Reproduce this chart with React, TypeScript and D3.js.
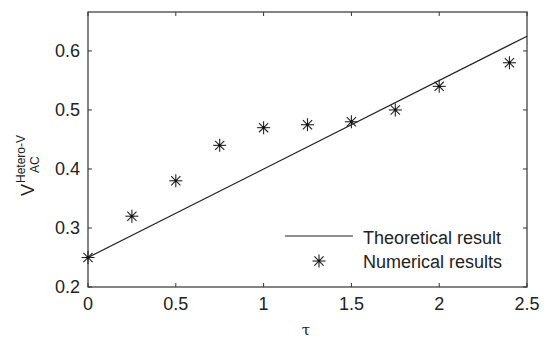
import React, { useEffect, useRef } from 'react'
import * as d3 from 'd3'

const width = 550
const height = 344
const margin = { top: 12, left: 88, bottom: 57, right: 23 }
const iwidth = width - margin.left - margin.right
const iheight = height - margin.top - margin.bottom

const tauValues = [0, 0.25, 0.5, 0.75, 1, 1.25, 1.5, 1.75, 2, 2.4]
const numericalValues = [0.25, 0.32, 0.38, 0.44, 0.47, 0.475, 0.48, 0.5, 0.54, 0.58]
const theoryTau = [0, 2.5]
const theoryValues = [0.25, 0.625]
const xTicks = [0, 0.5, 1, 1.5, 2, 2.5]
const yTicks = [0.2, 0.3, 0.4, 0.5, 0.6]

const font = 'Arial, "Liberation Sans", sans-serif'
const ink = '#222'

const App = () => {
  const ref = useRef<SVGSVGElement | null>(null)

  useEffect(() => {
    const svg = d3.select(ref.current)
    svg.selectAll('*').remove()

    const x = d3.scaleLinear().domain([0, 2.5]).range([0, iwidth])
    const y = d3.scaleLinear().domain([0.2, 0.666]).range([iheight, 0])

    const g = svg.append('g').attr('transform', `translate(${margin.left},${margin.top})`)

    // box
    g.append('rect')
      .attr('width', iwidth).attr('height', iheight)
      .attr('fill', 'none').attr('stroke', '#333').attr('stroke-width', 1.2)

    // ticks, inward on all four sides
    const tk = 4
    xTicks.forEach(t => {
      g.append('line').attr('x1', x(t)).attr('x2', x(t)).attr('y1', iheight).attr('y2', iheight - tk).attr('stroke', '#333')
      g.append('line').attr('x1', x(t)).attr('x2', x(t)).attr('y1', 0).attr('y2', tk).attr('stroke', '#333')
      g.append('text').attr('x', x(t)).attr('y', iheight + 23)
        .attr('text-anchor', 'middle').attr('font-family', font).attr('font-size', 18).attr('fill', ink)
        .text(String(t))
    })
    yTicks.forEach(t => {
      g.append('line').attr('x1', 0).attr('x2', tk).attr('y1', y(t)).attr('y2', y(t)).attr('stroke', '#333')
      g.append('line').attr('x1', iwidth).attr('x2', iwidth - tk).attr('y1', y(t)).attr('y2', y(t)).attr('stroke', '#333')
      g.append('text').attr('x', -8).attr('y', y(t)).attr('dy', '0.36em')
        .attr('text-anchor', 'end').attr('font-family', font).attr('font-size', 18).attr('fill', ink)
        .text(t.toFixed(1))
    })

    // theoretical line
    const line = d3.line<number>().x((d, i) => x(theoryTau[i])).y(d => y(d))
    g.append('path').datum(theoryValues).attr('d', line)
      .attr('fill', 'none').attr('stroke', '#222').attr('stroke-width', 1.2)

    // asterisk marker
    const star = (sel: any, cx: number, cy: number, r: number) => {
      const gg = sel.append('g').attr('transform', `translate(${cx},${cy})`)
      ;[0, 45, 90, 135].forEach(a => {
        const rad = (a * Math.PI) / 180
        gg.append('line')
          .attr('x1', -r * Math.cos(rad)).attr('y1', -r * Math.sin(rad))
          .attr('x2', r * Math.cos(rad)).attr('y2', r * Math.sin(rad))
          .attr('stroke', '#222').attr('stroke-width', 1.1)
      })
      gg.append('circle').attr('r', 1.4).attr('fill', '#111')
    }
    tauValues.forEach((t, i) => star(g, x(t), y(numericalValues[i]), 6.5))

    // legend
    const lg = svg.append('g')
    lg.append('line').attr('x1', 285).attr('x2', 353).attr('y1', 236).attr('y2', 236)
      .attr('stroke', '#222').attr('stroke-width', 1.2)
    lg.append('text').attr('x', 363).attr('y', 243.5).attr('font-family', font).attr('font-size', 18).attr('fill', ink)
      .text('Theoretical result')
    star(lg, 319, 261, 6.5)
    lg.append('text').attr('x', 363).attr('y', 268).attr('font-family', font).attr('font-size', 18).attr('fill', ink)
      .text('Numerical results')

    // x label
    svg.append('text').attr('x', 306).attr('y', 335).attr('text-anchor', 'middle')
      .attr('font-family', '"DejaVu Serif", "Liberation Serif", serif').attr('font-size', 15).attr('fill', ink)
      .text('τ')

    // y label
    svg.append('text').attr('transform', 'translate(34,196) rotate(-90)')
      .attr('font-family', font).attr('font-size', 18).attr('fill', ink).text('V')
    svg.append('text').attr('transform', 'translate(25,183) rotate(-90)')
      .attr('font-family', font).attr('font-size', 12).attr('fill', ink).text('Hetero-V')
    svg.append('text').attr('transform', 'translate(38.5,173) rotate(-90)')
      .attr('font-family', font).attr('font-size', 12).attr('fill', ink).text('AC')
  }, [])

  return <svg ref={ref} width={width} height={height} style={{ position: 'absolute', left: 0, top: 0, background: '#fff' }} />
}

export default App
